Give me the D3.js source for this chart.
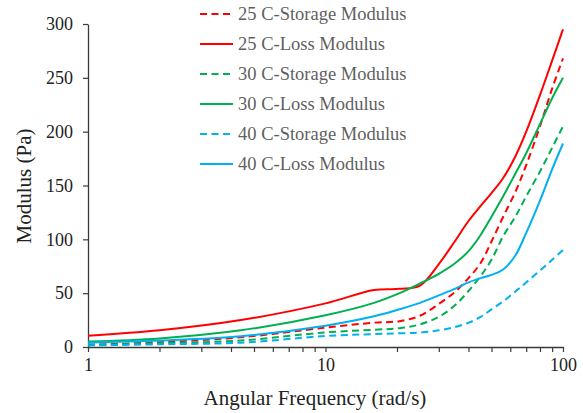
<!DOCTYPE html>
<html>
<head>
<meta charset="utf-8">
<script src="https://cdn.jsdelivr.net/npm/d3@7"></script>
<style>
  html, body { margin: 0; padding: 0; background: #fff; }
  svg { display: block; }
  text { font-family: "Liberation Serif", "Times New Roman", serif; }
</style>
</head>
<body>
<svg id="chart" width="583" height="413"></svg>
<script>
// Angular frequency sweep (rad/s)
const freq = [1, 2, 4.4, 10, 16, 20.5, 25, 30, 35, 40, 45, 50, 56, 63, 70, 80, 90, 100];

// Modulus values (Pa) per temperature
const storage25 = [2, 4.5, 9, 18, 22.6, 24, 29, 40, 51, 64, 78, 98, 121, 144, 169, 205, 240, 268];
const loss25    = [10.5, 15.5, 25, 40.5, 53, 54, 57, 77, 98, 117, 131, 143, 157, 177, 200, 234, 266, 295];
const storage30 = [2, 3.5, 6, 13.6, 16, 17.5, 21, 28, 38.5, 52, 66, 81, 103, 121, 140, 163, 185, 205];
const loss30    = [5, 8, 15.5, 29.5, 41, 50, 59, 68, 77.5, 89, 104, 121, 140, 161, 180, 207, 231, 250];
const storage40 = [1.5, 2.5, 4, 10.2, 12, 12.7, 13.5, 15.5, 18.5, 22.5, 28, 35, 42.5, 51.5, 60, 71, 81, 90];
const loss40    = [4, 6, 10, 19.8, 28.5, 35, 41, 48, 54, 60, 64, 67, 72, 85, 106, 136, 165, 189];

const seriesNames = [
  "25 C-Storage Modulus", "25 C-Loss Modulus",
  "30 C-Storage Modulus", "30 C-Loss Modulus",
  "40 C-Storage Modulus", "40 C-Loss Modulus"
];
const seriesValues = [storage25, loss25, storage30, loss30, storage40, loss40];
const seriesColors = ["#FF0000", "#FF0000", "#00B050", "#00B050", "#00B0F0", "#00B0F0"];
const seriesDashed = [true, false, true, false, true, false];

const yTicks = [0, 50, 100, 150, 200, 250, 300];
const xLabelTicks = [1, 10, 100];

const svg = d3.select("#chart");
const plotLeft = 88, plotRight = 563, plotTop = 24, plotBottom = 347;

const x = d3.scaleLog().domain([1, 100]).range([plotLeft, plotRight]);
const y = d3.scaleLinear().domain([0, 300]).range([plotBottom, plotTop]);

// minor + major ticks for the log axis
const xAllTicks = [];
for (let d = 1; d < 100; d *= 10) for (let m = 1; m < 10; m++) xAllTicks.push(d * m);
xAllTicks.push(100);

const axisColor = "#3a3a3a";

const xAxis = svg.append("g")
  .attr("transform", `translate(0,${plotBottom})`)
  .call(d3.axisBottom(x)
    .tickValues(xAllTicks)
    .tickSize(5)
    .tickSizeOuter(0)
    .tickPadding(6)
    .tickFormat(d => xLabelTicks.includes(d) ? d3.format("d")(d) : ""));
xAxis.select(".domain").attr("stroke", axisColor).attr("stroke-width", 1.3);
xAxis.selectAll(".tick line").attr("stroke", axisColor).attr("stroke-width", 1.2);
xAxis.selectAll(".tick text")
  .attr("font-size", 18)
  .attr("font-family", "Liberation Serif, serif")
  .attr("fill", "#222");

const yAxis = svg.append("g")
  .attr("transform", `translate(${plotLeft},0)`)
  .call(d3.axisLeft(y)
    .tickValues(yTicks)
    .tickSize(5)
    .tickSizeOuter(0)
    .tickPadding(10));
yAxis.select(".domain").attr("stroke", axisColor).attr("stroke-width", 1.3);
yAxis.selectAll(".tick line").attr("stroke", axisColor).attr("stroke-width", 1.2);
yAxis.selectAll(".tick text")
  .attr("font-size", 18)
  .attr("font-family", "Liberation Serif, serif")
  .attr("fill", "#222");

// axis titles
svg.append("text")
  .attr("x", 315).attr("y", 405)
  .attr("text-anchor", "middle")
  .attr("font-size", 21)
  .attr("fill", "#222")
  .text("Angular Frequency (rad/s)");

svg.append("text")
  .attr("transform", "translate(31,186) rotate(-90)")
  .attr("text-anchor", "middle")
  .attr("font-size", 21)
  .attr("fill", "#222")
  .text("Modulus (Pa)");

// smoothed curves
const line = d3.line()
  .x((d, i) => x(freq[i]))
  .y(d => y(d))
  .curve(d3.curveCatmullRom.alpha(0.5));

const dash = "7,4.5";

seriesValues.forEach((vals, k) => {
  svg.append("path")
    .datum(vals)
    .attr("fill", "none")
    .attr("stroke", seriesColors[k])
    .attr("stroke-width", 2)
    .attr("stroke-dasharray", seriesDashed[k] ? dash : null)
    .attr("d", line);
});

// legend
const legend = svg.append("g");
seriesNames.forEach((name, k) => {
  const cy = 14 + k * 30;
  legend.append("line")
    .attr("x1", 200).attr("x2", 233)
    .attr("y1", cy).attr("y2", cy)
    .attr("stroke", seriesColors[k])
    .attr("stroke-width", 2)
    .attr("stroke-dasharray", seriesDashed[k] ? dash : null);
  legend.append("text")
    .attr("x", 238).attr("y", cy)
    .attr("dy", "0.35em")
    .attr("font-size", 18.5)
    .attr("fill", "#5f5f5f")
    .text(name);
});
</script>
</body>
</html>
